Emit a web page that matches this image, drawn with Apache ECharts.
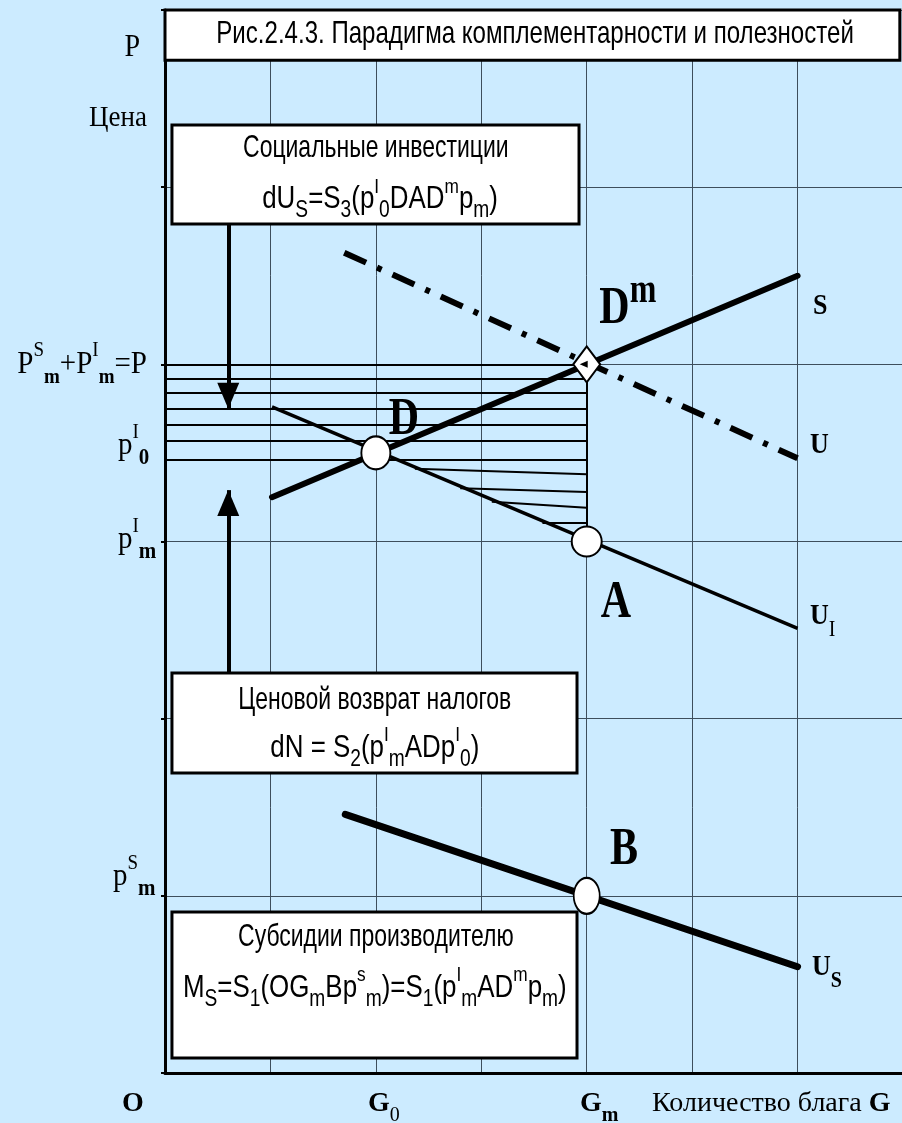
<!DOCTYPE html>
<html>
<head>
<meta charset="utf-8">
<title>Парадигма комплементарности и полезностей</title>
<script src="https://cdn.jsdelivr.net/npm/echarts@6/dist/echarts.min.js"></script>
<style>
  html, body { margin: 0; padding: 0; background: #ccebff; }
  #chart { width: 902px; height: 1123px; }
</style>
</head>
<body>
<div id="chart"></div>
<script>
// grid units: G (quantity) 0..7, P (price) 0..6
const xMax = 7
const yMax = 6

// curves, [G, P] end points
const lineS = [[1.015, 3.25], [6, 4.5]]
const lineU = [[1.7, 4.63], [6, 3.47]]
const lineUI = [[1.015, 3.76], [6, 2.51]]
const lineUs = [[1.71, 1.46], [6, 0.6]]

// key points
const pointD = [2, 3.5]
const pointDm = [4, 4.0]
const pointA = [4, 3.0]
const pointB = [4, 1.0]

// hatching of the tax area: levels running from the P axis to Gm ...
const gm = 4
const hatchLevels = [4.0, 3.92, 3.84, 3.75, 3.66, 3.57, 3.46]
// ... and short strokes starting on UI
const hatchShort = [
  [[2.37, 3.41], [4, 3.38]],
  [[2.8, 3.30], [4, 3.28]],
  [[3.1, 3.225], [4, 3.19]],
  [[3.58, 3.105], [4, 3.105]]
]

// arrows: [start, tip]
const arrowDown = [[0.6, 4.8], [0.6, 3.75]]
const arrowUp = [[0.6, 2.26], [0.6, 3.29]]

const BG = '#ccebff'
const serif = "'Liberation Serif', 'Times New Roman', serif"
const sans = "'Liberation Sans', Arial, sans-serif"

const chart = echarts.init(document.getElementById('chart'))

// rich token shifted dy px from line centre (H = line height)
function tok (size, dy, H, family, weight) {
  return {
    fontSize: size,
    fontFamily: family,
    fontWeight: weight || 'normal',
    lineHeight: H - 2 * Math.abs(dy),
    verticalAlign: dy > 0 ? 'bottom' : (dy < 0 ? 'top' : 'middle')
  }
}

const serifRich = {
  sp: tok(19, -5, 44, serif),
  sb: tok(19, 12, 44, serif, 'bold'),
  pu: tok(19, -12, 44, serif),
  pb: tok(21, 10, 44, serif, 'bold'),
  gs: tok(20, 6, 44, serif),
  gb: tok(20, 6, 44, serif, 'bold'),
  bs: tok(32, -18, 60, serif, 'bold')
}
const sansRich = {
  s: tok(20, 11, 40, sans),
  u: tok(18, -5, 40, sans)
}

const option = {
  backgroundColor: BG,
  animation: false,
  grid: { left: 165, top: 10, width: 738, height: 1063, outerBoundsMode: 'none' },
  xAxis: {
    type: 'value', min: 0, max: xMax, interval: 1,
    axisLine: { show: true, onZero: false, lineStyle: { color: '#000', width: 3 } },
    axisTick: { show: false },
    axisLabel: { show: false },
    splitLine: { show: true, lineStyle: { color: '#3e4e5c', width: 1 } }
  },
  yAxis: {
    type: 'value', min: 0, max: yMax, interval: 1,
    axisLine: { show: true, onZero: false, lineStyle: { color: '#000', width: 3 } },
    axisTick: { show: true, length: 4, lineStyle: { color: '#000', width: 2 } },
    axisLabel: { show: false },
    splitLine: { show: true, lineStyle: { color: '#3e4e5c', width: 1 } }
  },
  series: [
    {
      type: 'lines',
      coordinateSystem: 'cartesian2d',
      silent: true,
      z: 3,
      lineStyle: { color: '#000', width: 2, opacity: 1, curveness: 0 },
      data: hatchLevels.map(v => ({ coords: [[0, v], [gm, v]] }))
        .concat(hatchShort.map(c => ({ coords: c })))
        .concat([{ coords: [pointDm, pointA] }])
    },
    {
      type: 'lines',
      coordinateSystem: 'cartesian2d',
      silent: true,
      z: 3,
      lineStyle: { color: '#000', width: 4, opacity: 1, curveness: 0 },
      data: [{ coords: arrowDown }, { coords: arrowUp }]
    },
    {
      type: 'scatter',
      silent: true,
      z: 4,
      symbol: 'triangle',
      symbolSize: [22, 26],
      itemStyle: { color: '#000', opacity: 1 },
      data: [
        { value: arrowDown[1], symbolRotate: 180, symbolOffset: [0, '-50%'] },
        { value: arrowUp[1], symbolOffset: [0, '50%'] }
      ]
    },
    {
      name: 'S', type: 'line', data: lineS, showSymbol: false, z: 5,
      lineStyle: { color: '#000', width: 6, cap: 'round' }
    },
    {
      name: 'U', type: 'line', data: lineU, showSymbol: false, z: 5,
      lineStyle: { color: '#000', width: 6, type: [24, 12, 5, 12] }
    },
    {
      name: 'UI', type: 'line', data: lineUI, showSymbol: false, z: 5,
      lineStyle: { color: '#000', width: 3.5 }
    },
    {
      name: 'Us', type: 'line', data: lineUs, showSymbol: false, z: 5,
      lineStyle: { color: '#000', width: 7, cap: 'round' }
    },
    {
      type: 'scatter',
      silent: true,
      z: 6,
      itemStyle: { color: '#fff', borderColor: '#000', borderWidth: 2, opacity: 1 },
      data: [
        { value: pointD, symbol: 'circle', symbolSize: [29, 33] },
        { value: pointDm, symbol: 'diamond', symbolSize: [27, 36] },
        { value: pointA, symbol: 'circle', symbolSize: 30 },
        { value: pointB, symbol: 'circle', symbolSize: [26, 36] }
      ]
    },
    {
      // small mark inside the D^m diamond
      type: 'scatter',
      silent: true,
      z: 7,
      symbol: 'triangle',
      symbolSize: [7, 8],
      symbolRotate: 90,
      symbolOffset: [-3, 0],
      itemStyle: { color: '#000', opacity: 1 },
      data: [pointDm]
    }
  ]
}
chart.setOption(option)

const px = p => chart.convertToPixel({ gridIndex: 0 }, p)

function box (a, b) {
  const p1 = px(a)
  const p2 = px(b)
  return {
    type: 'rect', z: 100,
    shape: { x: p1[0], y: p1[1], width: p2[0] - p1[0], height: p2[1] - p1[1] },
    style: { fill: '#fff', stroke: '#000', lineWidth: 3 }
  }
}

function label (at, text, opt) {
  const p = px(at)
  return {
    type: 'text', z: 110,
    x: p[0], y: p[1],
    scaleX: opt.sx || 1, scaleY: opt.sy || 1,
    style: {
      text: text,
      fill: '#000',
      fontFamily: opt.family || serif,
      fontSize: opt.size,
      fontWeight: opt.weight || 'normal',
      lineHeight: opt.lh,
      align: opt.align || 'center',
      verticalAlign: 'middle',
      rich: opt.rich
    }
  }
}

const serifOpt = { size: 29, lh: 44, rich: serifRich, align: 'left', sy: 1.08 }
const boxHead = { family: sans, size: 28, sx: 0.82, sy: 1.12 }
const boxFormula = { family: sans, size: 27, lh: 40, rich: sansRich, sx: 0.96, sy: 1.15 }
const bigLetter = { size: 42, weight: 'bold', sy: 1.25, lh: 60, rich: serifRich }
const curveName = { size: 26, weight: 'bold', align: 'left', sy: 1.15, lh: 44, rich: serifRich }

const graphics = [
  box([0, 6], [6.97, 5.717]),
  label([3.51, 5.86], 'Рис.2.4.3. Парадигма комплементарности и полезностей', { family: sans, size: 29, sx: 0.83, sy: 1.05 }),

  box([0.066, 5.351], [3.927, 4.792]),
  label([2.0, 5.221], 'Социальные инвестиции', boxHead),
  label([2.04, 4.93], 'dU{s|S}=S{s|3}(p{u|I}{s|0}DAD{u|m}p{s|m})', boxFormula),

  box([0.066, 2.258], [3.908, 1.693]),
  label([1.99, 2.105], 'Ценовой возврат налогов', boxHead),
  label([1.99, 1.834], 'dN = S{s|2}(p{u|I}{s|m}ADp{u|I}{s|0})', boxFormula),

  box([0.066, 0.909], [3.908, 0.085]),
  label([2.0, 0.768], 'Субсидии производителю', boxHead),
  label([1.99, 0.48], 'M{s|S}=S{s|1}(OG{s|m}Bp{u|s}{s|m})=S{s|1}(p{u|I}{s|m}AD{u|m}p{s|m})', boxFormula),

  // price axis
  label([-0.31, 5.785], 'P', { size: 28, sy: 1.1 }),
  label([-0.446, 5.39], 'Цена', { size: 27, sy: 1.1 }),
  label([-0.171, 4.0], 'P{sp|S}{sb|m}+P{sp|I}{sb|m}=P', Object.assign({}, serifOpt, { align: 'right' })),
  label([-0.446, 3.54], 'p{pu|I}{pb|0}', serifOpt),
  label([-0.446, 3.01], 'p{pu|I}{pb|m}', serifOpt),
  label([-0.493, 1.106], 'p{pu|S}{pb|m}', serifOpt),

  // quantity axis
  label([-0.304, -0.175], 'O', { size: 28, weight: 'bold' }),
  label([1.925, -0.175], 'G{gs|0}', { size: 28, weight: 'bold', align: 'left', lh: 44, rich: serifRich }),
  label([3.936, -0.175], 'G{gb|m}', { size: 28, weight: 'bold', align: 'left', lh: 44, rich: serifRich }),
  label([4.62, -0.175], 'Количество блага {gG|G}', { size: 28, align: 'left', rich: { gG: { fontSize: 28, fontWeight: 'bold', fontFamily: serif } } }),

  // points and curves
  label([2.267, 3.686], 'D', bigLetter),
  label([4.39, 4.31], 'D{bs|m}', bigLetter),
  label([4.278, 2.653], 'A', bigLetter),
  label([4.354, 1.259], 'B', bigLetter),
  label([6.146, 4.329], 'S', curveName),
  label([6.118, 3.545], 'U', curveName),
  label([6.118, 2.579], 'U{gs|I}', curveName),
  label([6.137, 0.598], 'U{gb|S}', curveName)
]

chart.setOption({ graphic: graphics })
</script>
</body>
</html>
